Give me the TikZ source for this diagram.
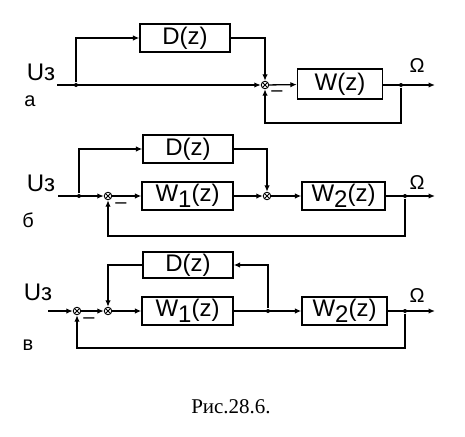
\documentclass[tikz,border=0pt]{standalone}
\usepackage{fontspec}
\setmainfont{Liberation Sans}
\newfontfamily\capfont{Liberation Serif}
\usetikzlibrary{arrows.meta}
\begin{document}
\begin{tikzpicture}[x=1pt, y=-1pt, line width=1.3pt,
	block/.style={draw, minimum height=28pt, inner sep=0pt, font=\fontsize{24}{24}\selectfont},
	summe/.style={draw, circle, minimum size=7.5pt, inner sep=0pt, line width=.9pt,
		path picture={\draw[line width=.8pt] (path picture bounding box.north west)--(path picture bounding box.south east)
			(path picture bounding box.north east)--(path picture bounding box.south west);}},
	pfeil/.style={-{Latex[length=6.5pt,width=5.5pt]}},
	pkt/.style={circle, fill, inner sep=0pt, minimum size=4pt},
	lbl/.style={font=\fontsize{24}{24}\selectfont},
	klein/.style={font=\fontsize{20}{20}\selectfont}]
	\useasboundingbox (0,0) rectangle (465,436);
	%a
	\node[block, minimum width=90pt] (Da) at (185,38) {D(z)};
	\node[summe] (Sa) at (265,85) {};
	\node[block, minimum width=85pt, minimum height=30pt] (Wa) at (340,84) {W(z)};
	\coordinate (ina) at (57,85);
	\node[pkt] (ba) at (76,85) {};
	\node[pkt] (oa) at (401,85) {};
	\coordinate (outa) at (435,85);
	\draw[pfeil] (ina) -- (Sa);
	\draw[pfeil] (ba) |- (Da);
	\draw[pfeil] (Da) -| (Sa);
	\draw[pfeil] (Sa) -- (Wa);
	\draw[pfeil] (Wa.east |- oa) -- (outa);
	\draw[pfeil] (oa) -- ++(0,38) -| (Sa);
	\node[lbl] (Ua) at (41,72) {Uз};
	\node[klein] (Oa) at (417,66) {Ω};
	\node[klein] (la) at (30,101) {а};
	\node[klein] (ma) at (277,94) {–};
	%b
	\node[block, minimum width=90pt] (Db) at (188,149) {D(z)};
	\node[summe] (S1b) at (108,196) {};
	\node[block, minimum width=91pt] (W1b) at (187.5,196) {W\raisebox{-.45ex}{1}(z)};
	\node[summe] (S2b) at (267,196) {};
	\node[block, minimum width=83pt] (W2b) at (343.5,196) {W\raisebox{-.45ex}{2}(z)};
	\coordinate (inb) at (58,196);
	\node[pkt] (bb) at (79,196) {};
	\node[pkt] (ob) at (405,196) {};
	\coordinate (outb) at (435,196);
	\draw[pfeil] (inb) -- (S1b);
	\draw[pfeil] (bb) |- (Db);
	\draw[pfeil] (Db) -| (S2b);
	\draw[pfeil] (S1b) -- (W1b);
	\draw[pfeil] (W1b) -- (S2b);
	\draw[pfeil] (S2b) -- (W2b);
	\draw[pfeil] (W2b) -- (outb);
	\draw[pfeil] (ob) -- ++(0,40) -| (S1b);
	\node[lbl] (Ub) at (41,183) {Uз};
	\node[klein] (Ob) at (417,183) {Ω};
	\node[klein] (lb) at (28,220) {б};
	\node[klein] (mb) at (121,206) {–};
	%c
	\node[block, minimum width=90pt, minimum height=26pt] (Dc) at (188,265) {D(z)};
	\node[summe] (S1c) at (77,311) {};
	\node[summe] (S2c) at (108,311) {};
	\node[block, minimum width=91pt] (W1c) at (187.5,311) {W\raisebox{-.45ex}{1}(z)};
	\node[pkt] (dc) at (268,311) {};
	\node[block, minimum width=85pt] (W2c) at (344.5,311) {W\raisebox{-.45ex}{2}(z)};
	\coordinate (inc) at (48,311);
	\node[pkt] (oc) at (405,311) {};
	\coordinate (outc) at (435,311);
	\draw[pfeil] (inc) -- (S1c);
	\draw[pfeil] (S1c) -- (S2c);
	\draw[pfeil] (S2c) -- (W1c);
	\draw[pfeil] (W1c) -- (W2c);
	\draw[pfeil] (dc) |- (Dc);
	\draw[pfeil] (Dc) -| (S2c);
	\draw[pfeil] (W2c) -- (outc);
	\draw[pfeil] (oc) -- ++(0,37) -| (S1c);
	\node[lbl] (Uc) at (38,292) {Uз};
	\node[klein] (Oc) at (417,296) {Ω};
	\node[klein] (lc) at (28,345) {в};
	\node[klein] (mc) at (89,321) {–};
	%Unterschrift
	\node[font=\capfont\fontsize{21}{21}\selectfont] (cap) at (231,407) {Рис.28.6.};
\end{tikzpicture}
\end{document}
